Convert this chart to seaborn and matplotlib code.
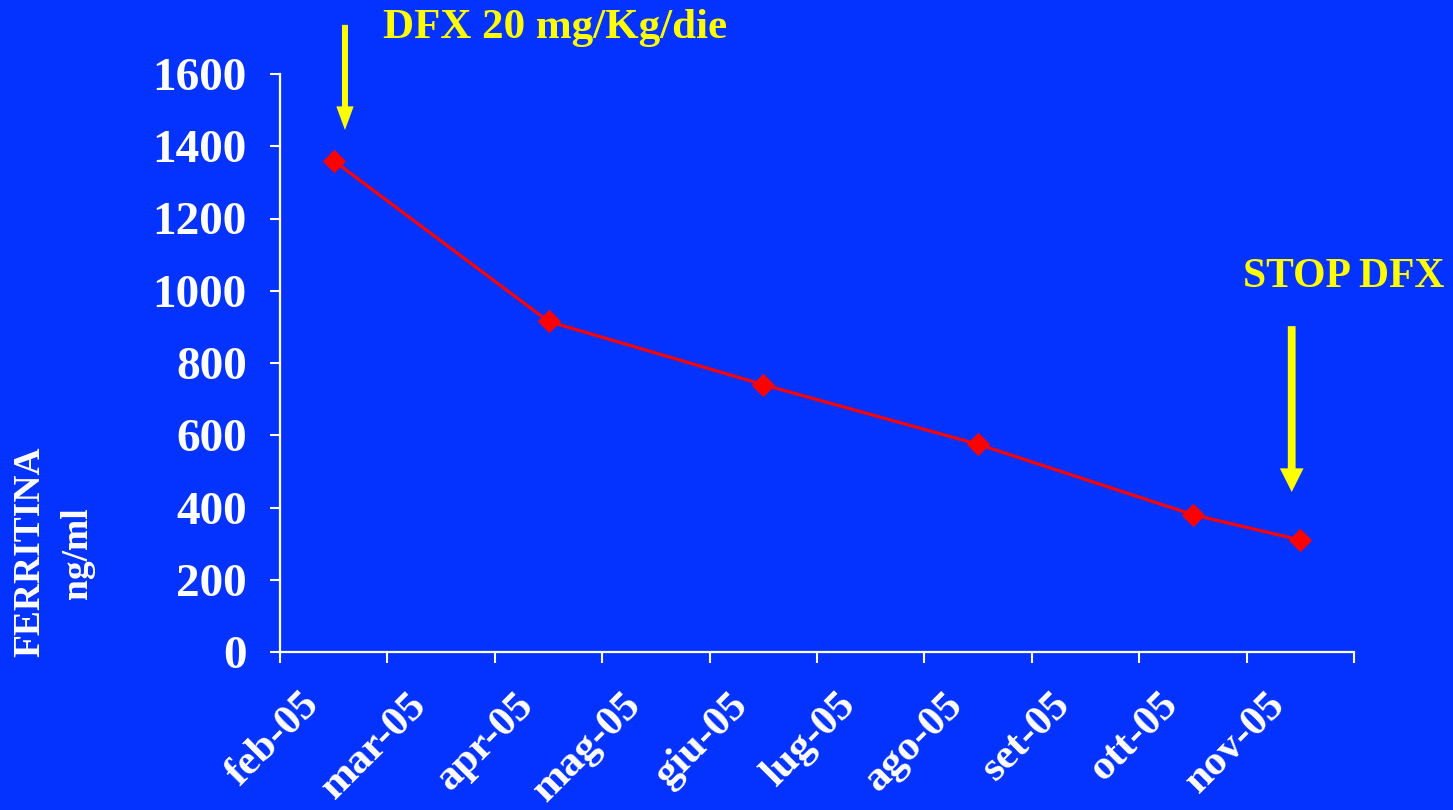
import matplotlib
matplotlib.use("Agg")
import matplotlib.pyplot as plt
import seaborn as sns
import pandas as pd
from matplotlib.ticker import FixedLocator, NullFormatter, FixedFormatter

# ---- data ----
months = ["feb-05", "mar-05", "apr-05", "mag-05", "giu-05",
          "lug-05", "ago-05", "set-05", "ott-05", "nov-05"]
sample_months = ["feb-05", "apr-05", "giu-05", "ago-05", "ott-05", "nov-05"]
ferritin = [1360, 915, 740, 575, 380, 310]
y_ticks = [0, 200, 400, 600, 800, 1000, 1200, 1400, 1600]

BG = "#0433FF"
sns.set_theme(style="white")
plt.rcParams["font.family"] = ["Liberation Serif", "DejaVu Serif"]
plt.rcParams["font.weight"] = "bold"

df = pd.DataFrame({
    "pos": [months.index(m) + 0.5 for m in sample_months],
    "val": ferritin,
})

fig = plt.figure(figsize=(14.53, 8.10), dpi=100, facecolor=BG)
ax = fig.add_axes([280 / 1453, 1 - 652 / 810, (1354 - 280) / 1453, (652 - 74) / 810])
ax.set_facecolor(BG)

sns.lineplot(data=df, x="pos", y="val", ax=ax, color="#FF0000", linewidth=2.3,
             marker="D", markersize=11, markeredgecolor="#FF0000")

ax.set_xlim(0, len(months))
ax.set_ylim(0, 1600)
ax.set_xlabel("")
ax.set_ylabel("")

for s in ["top", "right"]:
    ax.spines[s].set_visible(False)
for s in ["left", "bottom"]:
    ax.spines[s].set_color("white")
    ax.spines[s].set_linewidth(1.6)

ax.set_yticks(y_ticks)
ax.set_yticklabels([str(v) for v in y_ticks])
ax.tick_params(axis="y", colors="white", labelsize=34, length=7, width=1.5,
               direction="out", pad=17, left=True)

ax.xaxis.set_major_locator(FixedLocator(list(range(len(months) + 1))))
ax.xaxis.set_major_formatter(NullFormatter())
ax.xaxis.set_minor_locator(FixedLocator([i + 0.31 for i in range(len(months))]))
ax.xaxis.set_minor_formatter(FixedFormatter(months))
ax.tick_params(axis="x", which="major", colors="white", length=8, width=1.5,
               direction="out", bottom=True)
ax.tick_params(axis="x", which="minor", colors="white", labelsize=31, length=0,
               pad=34, bottom=True)
for lab in ax.get_xticklabels(minor=True):
    lab.set_rotation(45)
    lab.set_ha("right")
    lab.set_va("center")
    lab.set_rotation_mode("anchor")
    lab.set_fontweight("bold")
for lab in ax.get_yticklabels():
    lab.set_fontweight("bold")

# y-axis title
fig.text(30 / 1453, 1 - 552 / 810, "FERRITINA", rotation=90, color="white",
         fontsize=27, fontweight="bold", ha="center", va="center")
fig.text(78 / 1453, 1 - 553 / 810, "ng/ml", rotation=90, color="white",
         fontsize=27, fontweight="bold", ha="center", va="center")

# annotations
arrow1 = dict(facecolor="#FFFF00", edgecolor="none", width=4.3,
              headwidth=12.5, headlength=17, shrink=0)
arrow2 = dict(facecolor="#FFFF00", edgecolor="none", width=5.6,
              headwidth=17, headlength=17, shrink=0)
ax.annotate("", xy=(0.605, 1445), xytext=(0.605, 1736), arrowprops=arrow1,
            annotation_clip=False)
ax.annotate("", xy=(9.42, 443), xytext=(9.42, 902), arrowprops=arrow2,
            annotation_clip=False)
fig.text(383 / 1453, 1 - 28 / 810, "DFX 20 mg/Kg/die", color="#FFFF00",
         fontsize=31, fontweight="bold", ha="left", va="center")
fig.text(1243 / 1453, 1 - 277 / 810, "STOP DFX", color="#FFFF00",
         fontsize=30, fontweight="bold", ha="left", va="center")

fig.savefig("out.png", dpi=100, facecolor=BG)
